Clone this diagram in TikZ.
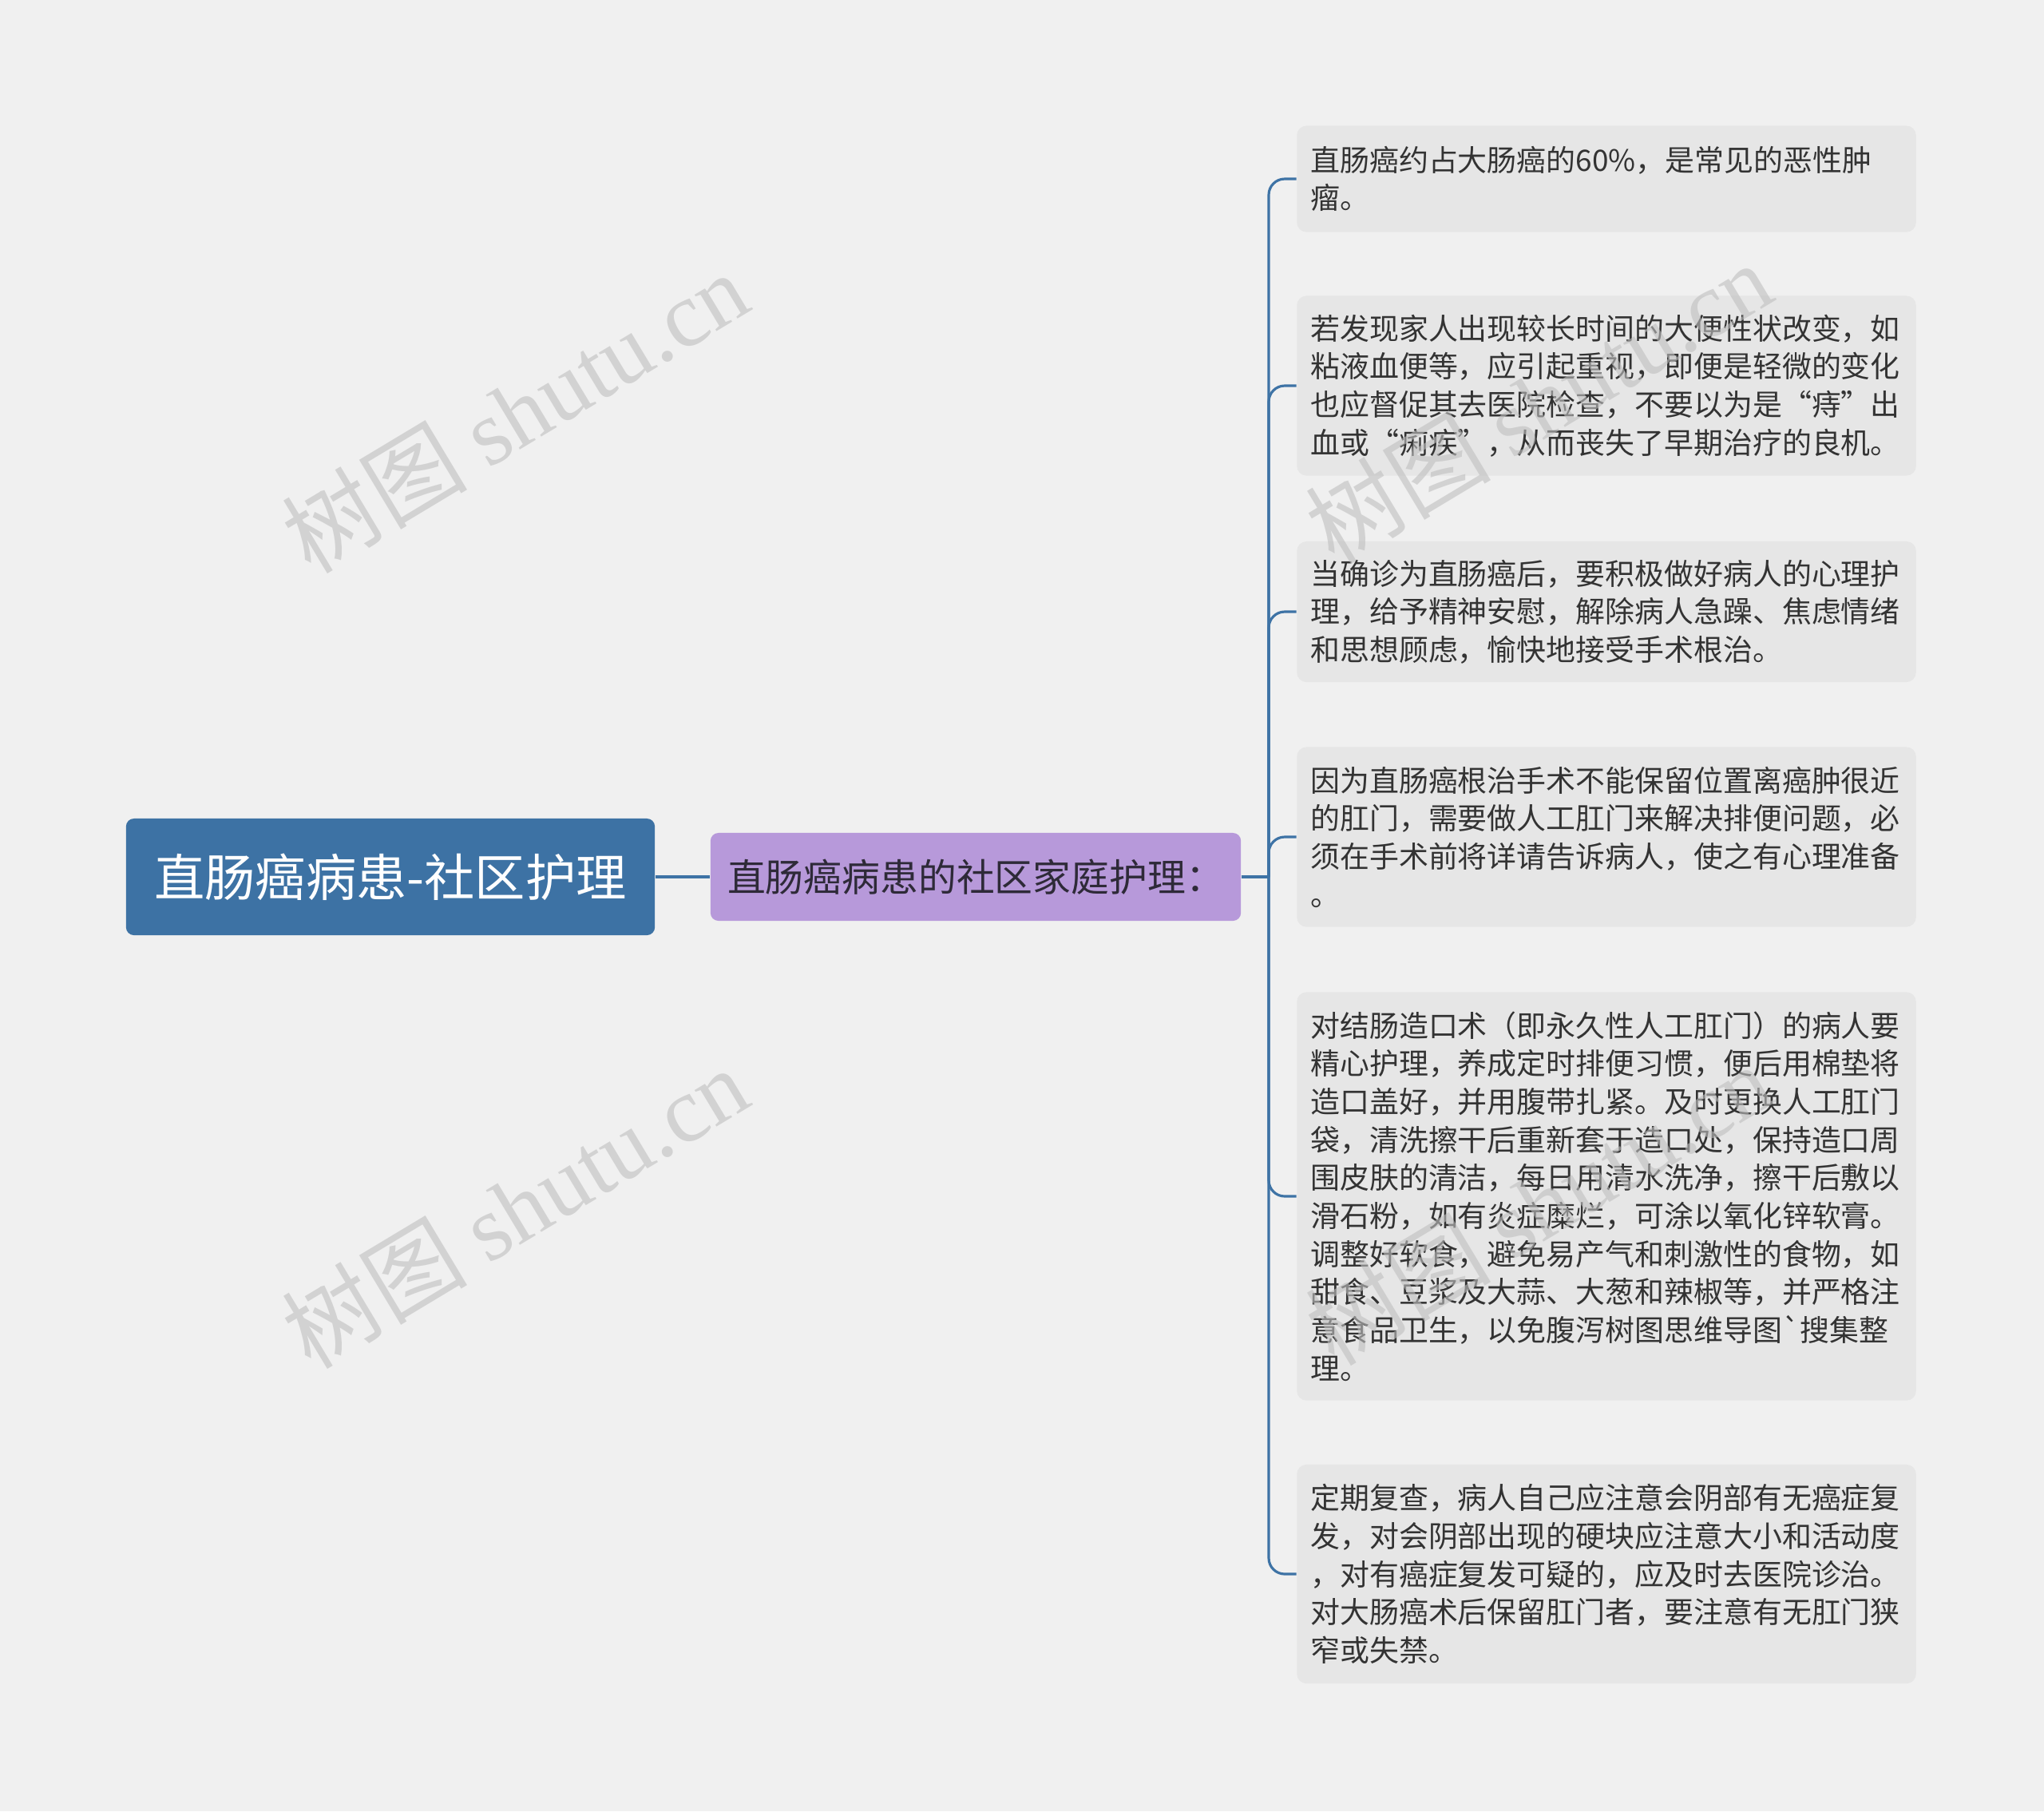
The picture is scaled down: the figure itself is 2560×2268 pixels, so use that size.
\documentclass[tikz,border=0pt]{standalone}
\usepackage{fontspec}
\setmainfont{Noto Sans CJK SC}[Ligatures=TeXOff]
\newfontfamily\wmfont{Liberation Serif}

\definecolor{bggray}{HTML}{F0F0F0}
\definecolor{rootblue}{HTML}{3D72A4}
\definecolor{linkblue}{HTML}{3E73A5}
\definecolor{branchpurple}{HTML}{B799DA}
\definecolor{branchtext}{HTML}{2E2A38}
\definecolor{leafgray}{HTML}{E6E6E6}
\definecolor{leaftext}{HTML}{333333}

\begin{document}
\begin{tikzpicture}[x=0.01cm,y=-0.01cm,
    topic/.style={fill=rootblue,text=white,rounded corners=0.1cm,minimum width=6.62cm,minimum height=1.46cm,font=\fontsize{18pt}{20pt}\selectfont},
    branch/.style={fill=branchpurple,text=branchtext,rounded corners=0.1cm,minimum width=6.64cm,minimum height=1.10cm,font=\fontsize{13.6pt}{16pt}\selectfont},
    leaf/.style={fill=leafgray,text=leaftext,rounded corners=0.12cm,text width=7.41cm,inner xsep=0.17cm,align=left,font=\fontsize{10.5pt}{13.55pt}\selectfont},
    link/.style={draw=linkblue,line width=0.9pt},
    wmark/.style={text=black!25,opacity=0.6,rotate=31,font=\fontsize{33pt}{36pt}\selectfont}]
      \fill[bggray] (0,0) rectangle (2560,2268);
      \useasboundingbox (0,0) rectangle (2560,2268);

      \node[topic] (1) at (489,1098) {直肠癌病患-社区护理};
      \node[branch] (2) at (1222,1098) {直肠癌病患的社区家庭护理：};
      \coordinate (j) at (1589,1098);

      \node[leaf,minimum height=1.33cm] (3) at (2012,224) {直肠癌约占大肠癌的60\%，是常见的恶性肿\\瘤。};
      \node[leaf,minimum height=2.25cm] (4) at (2012,483) {若发现家人出现较长时间的大便性状改变，如\\粘液血便等，应引起重视，即便是轻微的变化\\也应督促其去医院检查，不要以为是“痔”出\\血或“痢疾”，从而丧失了早期治疗的良机。};
      \node[leaf,minimum height=1.76cm] (5) at (2012,766) {当确诊为直肠癌后，要积极做好病人的心理护\\理，给予精神安慰，解除病人急躁、焦虑情绪\\和思想顾虑，愉快地接受手术根治。};
      \node[leaf,minimum height=2.25cm] (6) at (2012,1048) {因为直肠癌根治手术不能保留位置离癌肿很近\\的肛门，需要做人工肛门来解决排便问题，必\\须在手术前将详请告诉病人，使之有心理准备\\。};
      \node[leaf,minimum height=5.11cm] (7) at (2012,1498) {对结肠造口术（即永久性人工肛门）的病人要\\精心护理，养成定时排便习惯，便后用棉垫将\\造口盖好，并用腹带扎紧。及时更换人工肛门\\袋，清洗擦干后重新套于造口处，保持造口周\\围皮肤的清洁，每日用清水洗净，擦干后敷以\\滑石粉，如有炎症糜烂，可涂以氧化锌软膏。\\调整好软食，避免易产气和刺激性的食物，如\\甜食、豆浆及大蒜、大葱和辣椒等，并严格注\\意食品卫生，以免腹泻树图思维导图`搜集整\\理。};
      \node[leaf,minimum height=2.74cm] (8) at (2012,1971) {定期复查，病人自己应注意会阴部有无癌症复\\发，对会阴部出现的硬块应注意大小和活动度\\，对有癌症复发可疑的，应及时去医院诊治。\\对大肠癌术后保留肛门者，要注意有无肛门狭\\窄或失禁。};

      \draw[link] (1) -- (2);
      \draw[link] (2) -- (j);
      \foreach \n in {3,...,8}
        \draw[link,rounded corners=0.2cm] (j) |- (\n.west);

      \node[wmark] (w1) at (645,516) {树图 {\wmfont shutu.cn}};
      \node[wmark] (w2) at (645,1512) {树图 {\wmfont shutu.cn}};
      \node[wmark] (w3) at (1927,504) {树图 {\wmfont shutu.cn}};
      \node[wmark] (w4) at (1927,1508) {树图 {\wmfont shutu.cn}};
    \end{tikzpicture}
\end{document}
